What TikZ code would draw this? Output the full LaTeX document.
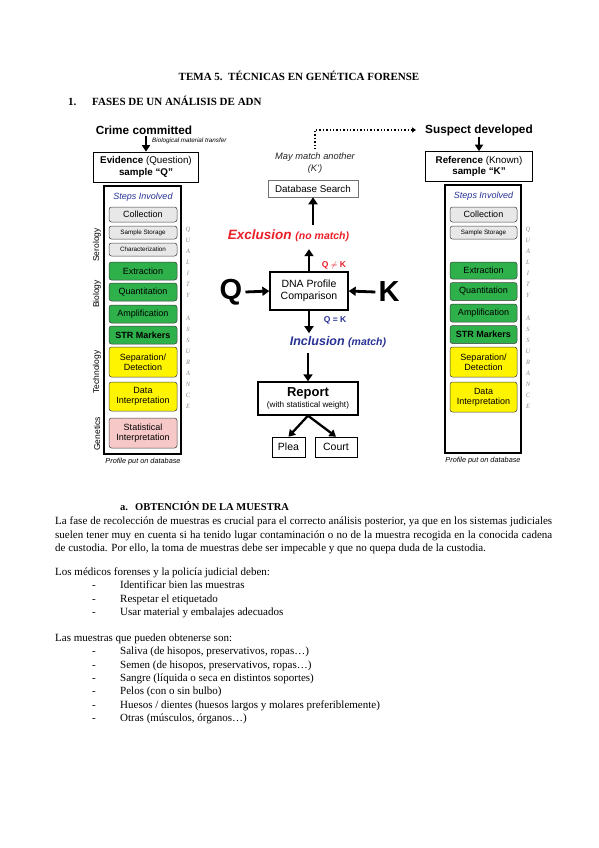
\documentclass[tikz,border=0pt]{standalone}
\usepackage{fontspec}
\setmainfont{Liberation Serif}
\setsansfont{Liberation Sans}
\usetikzlibrary{arrows.meta,shadows}
\definecolor{stepgreen}{RGB}{46,176,74}
\definecolor{stepyellow}{RGB}{255,244,0}
\definecolor{stepgray}{RGB}{232,232,232}
\definecolor{steppink}{RGB}{246,200,200}
\definecolor{darkblue}{RGB}{40,50,150}
\definecolor{exred}{RGB}{235,30,40}
\newcommand{\fs}[2]{\fontsize{#1}{#2}\selectfont}
\begin{document}
\begin{tikzpicture}[x=1pt,y=-1pt,
  stepbox/.style={draw=black!75, rounded corners=2.5pt, line width=0.5pt, align=center, inner sep=0pt, font=\sffamily\fs{9}{10}},
  grayb/.style={stepbox, fill=stepgray},
  greenb/.style={stepbox, fill=stepgreen},
  yellowb/.style={stepbox, fill=stepyellow},
  pinkb/.style={stepbox, fill=steppink},
  smalltxt/.style={font=\sffamily\fs{6.3}{7}},
  column/.style={draw=black, line width=1.2pt, inner sep=0pt},
  sidelab/.style={rotate=90, font=\sffamily\fs{8.5}{9}},
  qa/.style={align=center, font=\itshape\fs{6.5}{11.1}, text=black!45, inner sep=0pt},
  steps/.style={font=\sffamily\itshape\fs{9}{10}, text=darkblue, inner sep=0pt},
  headtxt/.style={font=\sffamily\bfseries\fs{11.8}{13}, inner sep=1pt},
  samplebox/.style={draw=black, line width=0.6pt, align=center, font=\sffamily\fs{9.8}{11.5}, inner sep=0pt},
  thinbox/.style={draw=black, line width=0.6pt, align=center, font=\sffamily\fs{10.5}{12}, inner sep=0pt},
  thickbox/.style={draw=black, line width=1.3pt, align=center, font=\sffamily\fs{10.5}{12.5}, inner sep=0pt},
  bigarr/.style={-{Triangle[length=7pt,width=9pt]}, line width=2.8pt},
  midarr/.style={-{Triangle[length=6.5pt,width=8pt]}, line width=2.3pt},
  dbnote/.style={font=\sffamily\itshape\fs{7.3}{8}, inner sep=0pt},
  body/.style={anchor=base west, font=\fs{11}{12}, inner sep=0pt},
  dashitem/.style={anchor=base west, font=\fs{11}{12}, inner sep=0pt}
]
\useasboundingbox (0,0) rectangle (599,848);
\fill[white] (0,0) rectangle (599,848);

% ---------- headings ----------
\node[font=\bfseries\fs{11}{12}, inner sep=0pt, anchor=base] (title) at (299,80.5) {TEMA 5.\ \ TÉCNICAS EN GENÉTICA FORENSE};
\node[font=\bfseries\fs{11}{12}, inner sep=0pt, anchor=base west] (sec1) at (68,105.5) {\makebox[24pt][l]{1.}FASES DE UN ANÁLISIS DE ADN};

% ---------- left side ----------
\node[headtxt] (crime) at (144,130) {Crime committed};
\node[font=\sffamily\itshape\fs{6.3}{7}, inner sep=0pt, anchor=west] (bio) at (152,140.5) {Biological material transfer};
\node[samplebox, minimum width=105pt, minimum height=30pt] (evid) at (146,167) {\textbf{Evidence} (Question)\\\textbf{sample ``Q''}};
\draw[midarr] (evid.north |- crime.south) -- (evid.north);

\node[column, minimum width=77pt, minimum height=268pt] (colL) at (142.5,320) {};
\node[steps] (stepsL) at (143,197.5) {Steps Involved};
\node[grayb, minimum width=68pt, minimum height=15pt] (collL) at (143,214.5) {Collection};
\node[grayb, minimum width=68pt, minimum height=13pt, smalltxt] (storL) at (143,232.5) {Sample Storage};
\node[grayb, minimum width=68pt, minimum height=13pt, smalltxt] (charL) at (143,249.5) {Characterization};
\node[greenb, minimum width=68pt, minimum height=18pt] (extrL) at (143,271) {Extraction};
\node[greenb, minimum width=68pt, minimum height=18pt] (quanL) at (143,292) {Quantitation};
\node[greenb, minimum width=68pt, minimum height=18pt] (amplL) at (143,314) {Amplification};
\node[greenb, minimum width=68pt, minimum height=18pt, font=\sffamily\bfseries\fs{9}{10}] (strL) at (143,335) {STR Markers};
\node[yellowb, minimum width=68pt, minimum height=30pt] (sepL) at (143,362) {Separation/\\Detection};
\node[yellowb, minimum width=68pt, minimum height=29pt] (dataL) at (143,396.5) {Data\\Interpretation};
\node[pinkb, minimum width=68pt, minimum height=30pt] (statL) at (143,433) {Statistical\\Interpretation};
\node[dbnote] (pdbL) at (143,462) {Profile put on database};

\node[sidelab] (ser) at (97,245) {Serology};
\node[sidelab] (biol) at (97,294) {Biology};
\node[sidelab] (tech) at (97,372) {Technology};
\node[sidelab] (gen) at (97,434) {Genetics};

\node[qa] (qaL) at (188,318) {Q\\U\\A\\L\\I\\T\\Y\\ \\A\\S\\S\\U\\R\\A\\N\\C\\E};

% ---------- centre ----------
\node[font=\sffamily\itshape\fs{9.3}{12}, align=center, inner sep=0pt, text=black!85] (may) at (315,163) {May match another\\(K')};
\node[draw=black!55, line width=0.5pt, fill=white, drop shadow={shadow xshift=1pt, shadow yshift=-1pt, opacity=0.35}, minimum width=90pt, minimum height=17pt, inner sep=0pt, font=\sffamily\fs{9.8}{11}] (db) at (313,188.5) {Database Search};

\node[font=\sffamily\bfseries\itshape\fs{13.5}{15}, text=exred, inner sep=0pt] (excl) at (288.5,236) {Exclusion {\fs{10.5}{12}(no match)}};
\node[thickbox, minimum width=78pt, minimum height=38pt] (dna) at (309,291) {DNA Profile\\Comparison};
\node[font=\sffamily\bfseries\fs{29}{30}, inner sep=0pt] (Q) at (231,292) {Q};
\node[font=\sffamily\bfseries\fs{29}{30}, inner sep=0pt] (K) at (389,292) {K};
\node[font=\sffamily\bfseries\fs{8.5}{10}, text=exred, inner sep=0pt] (neq) at (334,265) {Q $\neq$ K};
\node[font=\sffamily\bfseries\fs{8.5}{10}, text=darkblue, inner sep=0pt] (eq) at (335,320) {Q = K};
\node[font=\sffamily\bfseries\itshape\fs{12.5}{14}, text=darkblue, inner sep=0pt] (incl) at (338,342) {Inclusion {\fs{10.5}{12}(match)}};
\node[thickbox, minimum width=100pt, minimum height=33pt, font=\sffamily\fs{8.2}{10.5}] (report) at (308,398.5) {{\bfseries\fs{13}{14}Report}\\(with statistical weight)};
\node[thinbox, minimum width=33pt, minimum height=20pt] (plea) at (288.5,447) {Plea};
\node[thinbox, minimum width=42pt, minimum height=20pt] (court) at (336,447) {Court};

\draw[bigarr] (dna.north) -- ([yshift=-7pt]dna.north |- excl.south);
\draw[bigarr] ([yshift=5pt]db.south |- excl.north) -- (db.south);
\draw[bigarr] ([xshift=3pt]Q.east) -- (dna.west);
\draw[bigarr] ([xshift=-3pt]K.west) -- (dna.east);
\draw[bigarr] (dna.south) -- ([yshift=3pt]dna.south |- incl.north);
\draw[bigarr] ([yshift=-5pt]report.north |- incl.south) -- (report.north);
\draw[midarr] (report.south) -- (plea.north);
\draw[midarr] (report.south) -- (court.north);

% ---------- right side ----------
\node[headtxt] (susp) at (479,130) {Suspect developed};
\node[samplebox, minimum width=107pt, minimum height=30pt] (ref) at (479,166.5) {\textbf{Reference} (Known)\\\textbf{sample ``K''}};
\draw[midarr] (susp.south) -- (ref.north);
\draw[dotted, line width=1.4pt, -{Triangle[length=4pt,width=5pt]}, shorten <=3pt, shorten >=8pt] (may.north) |- (susp.west);

\node[column, minimum width=76pt, minimum height=268pt] (colR) at (483,319) {};
\node[steps] (stepsR) at (483.5,196) {Steps Involved};
\node[grayb, minimum width=67pt, minimum height=15pt] (collR) at (483.5,214.5) {Collection};
\node[grayb, minimum width=67pt, minimum height=13pt, smalltxt] (storR) at (483.5,232.5) {Sample Storage};
\node[greenb, minimum width=67pt, minimum height=17pt] (extrR) at (483.5,270.5) {Extraction};
\node[greenb, minimum width=67pt, minimum height=18pt] (quanR) at (483.5,291.5) {Quantitation};
\node[greenb, minimum width=67pt, minimum height=18pt] (amplR) at (483.5,313) {Amplification};
\node[greenb, minimum width=67pt, minimum height=18pt, font=\sffamily\bfseries\fs{9}{10}] (strR) at (483.5,334.5) {STR Markers};
\node[yellowb, minimum width=67pt, minimum height=30pt] (sepR) at (483.5,362) {Separation/\\Detection};
\node[yellowb, minimum width=67pt, minimum height=30pt] (dataR) at (483.5,397) {Data\\Interpretation};
\node[dbnote] (pdbR) at (483,460.5) {Profile put on database};
\node[qa] (qaR) at (528,318) {Q\\U\\A\\L\\I\\T\\Y\\ \\A\\S\\S\\U\\R\\A\\N\\C\\E};

% ---------- body text ----------
\node[font=\bfseries\fs{10.5}{12}, inner sep=0pt, anchor=base west] (seca) at (120,510) {\makebox[15pt][l]{a.}OBTENCIÓN DE LA MUESTRA};
\node[body] (p1) at (55,524.5) {\makebox[497pt][s]{La fase de recolección de muestras es crucial para el correcto análisis posterior, ya que en los sistemas judiciales}};
\node[body] (p2) at (55,538) {\makebox[497pt][s]{suelen tener muy en cuenta si ha tenido lugar contaminación o no de la muestra recogida en la conocida cadena}};
\node[body] (p3) at (55,551.5) {de custodia. Por ello, la toma de muestras debe ser impecable y que no quepa duda de la custodia.};
\node[body] (p4) at (55,575.5) {Los médicos forenses y la policía judicial deben:};
\foreach \t [count=\i] in {Identificar bien las muestras, Respetar el etiquetado, Usar material y embalajes adecuados}{
  \node[dashitem] (da\i) at (92,575.5+13.3*\i) {-};
  \node[dashitem] (ta\i) at (120,575.5+13.3*\i) {\t};
}
\node[body] (p5) at (55,641.5) {Las muestras que pueden obtenerse son:};
\foreach \t [count=\i] in {{Saliva (de hisopos, preservativos, ropas\dots)}, {Semen (de hisopos, preservativos, ropas\dots)}, {Sangre (líquida o seca en distintos soportes)}, {Pelos (con o sin bulbo)}, {Huesos / dientes (huesos largos y molares preferiblemente)}, {Otras (músculos, órganos\dots)}}{
  \node[dashitem] (db\i) at (92,641.5+13.3*\i) {-};
  \node[dashitem] (tb\i) at (120,641.5+13.3*\i) {\t};
}
\end{tikzpicture}
\end{document}
